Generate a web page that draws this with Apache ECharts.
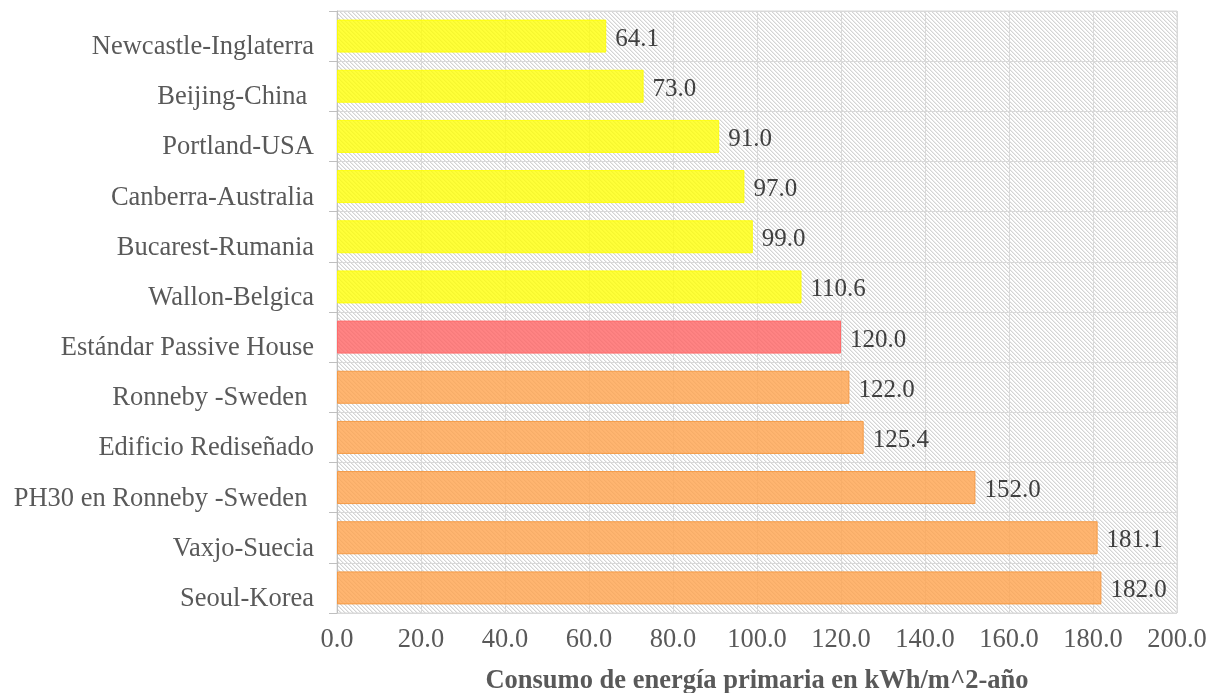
<!DOCTYPE html>
<html>
<head>
<meta charset="utf-8">
<script src="https://cdn.jsdelivr.net/npm/echarts@6/dist/echarts.min.js"></script>
<style>
html,body{margin:0;padding:0;background:#fff;}
#c{width:1217px;height:693px;}
</style>
</head>
<body>
<div id="c"></div>
<script>
const categories = [
  "Newcastle-Inglaterra", "Beijing-China ", "Portland-USA", "Canberra-Australia",
  "Bucarest-Rumania", "Wallon-Belgica", "Estándar Passive House", "Ronneby -Sweden ",
  "Edificio Rediseñado", "PH30 en Ronneby -Sweden ", "Vaxjo-Suecia", "Seoul-Korea"
];
const values = [64.1, 73.0, 91.0, 97.0, 99.0, 110.6, 120.0, 122.0, 125.4, 152.0, 181.1, 182.0];
const groups = ["ref","ref","ref","ref","ref","ref","std","low","low","low","low","low"];
const axisName = "Consumo de energía primaria en kWh/m^2-año";

const palette = {
  ref: {fill: "rgba(255,255,0,0.78)", border: "rgba(255,255,0,0.9)"},
  std: {fill: "rgba(255,100,100,0.8)", border: "#FF6B6B"},
  low: {fill: "rgba(255,165,80,0.82)", border: "#F59A45"}
};

// hatch pattern
const pc = document.createElement('canvas');
pc.width = 8; pc.height = 8;
const px = pc.getContext('2d');
const img = px.createImageData(8, 8);
for (let y = 0; y < 8; y++) {
  for (let x = 0; x < 8; x++) {
    const m = ((x - y) % 4 + 4) % 4;
    let v = 255;
    if (m === 0) v = 212; else if (m === 1) v = 236;
    const i = (y * 8 + x) * 4;
    img.data[i] = v; img.data[i+1] = v; img.data[i+2] = v; img.data[i+3] = 255;
  }
}
px.putImageData(img, 0, 0);

const font = "'Liberation Serif', 'Times New Roman', serif";
const chart = echarts.init(document.getElementById('c'), null, {renderer: 'canvas'});
chart.setOption({
  animation: false,
  grid: {
    left: 337, right: 40, top: 11, bottom: 80,
    outerBoundsMode: 'none',
    containLabel: false,
    show: true,
    backgroundColor: {image: pc, repeat: 'repeat'},
    borderColor: '#d9d9d9', borderWidth: 1
  },
  xAxis: {
    type: 'value', min: 0, max: 200, interval: 20,
    axisLine: {show: false},
    axisTick: {show: false},
    splitLine: {show: true, lineStyle: {color: '#d9d9d9', width: 1}},
    axisLabel: {
      color: '#595959', fontFamily: font, fontSize: 26.5, margin: 14,
      formatter: v => v.toFixed(1)
    },
    name: axisName,
    nameLocation: 'middle',
    nameGap: 55,
    nameTextStyle: {color: '#595959', fontFamily: font, fontSize: 26.5, fontWeight: 'bold'}
  },
  yAxis: {
    type: 'category', data: categories, inverse: true,
    axisLine: {show: true, lineStyle: {color: '#bfbfbf'}},
    axisTick: {show: true, length: 8, lineStyle: {color: '#bfbfbf'}},
    splitLine: {show: true, lineStyle: {color: '#d9d9d9', width: 1}},
    axisLabel: {color: '#595959', fontFamily: font, fontSize: 26.5, margin: 23,
      verticalAlign: 'top', lineHeight: 22}
  },
  series: [{
    type: 'bar',
    barWidth: 33,
    data: values.map((v, i) => ({
      value: v,
      itemStyle: {color: palette[groups[i]].fill, borderColor: palette[groups[i]].border, borderWidth: 1}
    })),
    label: {
      show: true, position: 'right', distance: 9, offset: [0, 3],
      color: '#404040', fontFamily: font, fontSize: 25,
      formatter: p => p.value.toFixed(1)
    }
  }]
});
</script>
</body>
</html>
